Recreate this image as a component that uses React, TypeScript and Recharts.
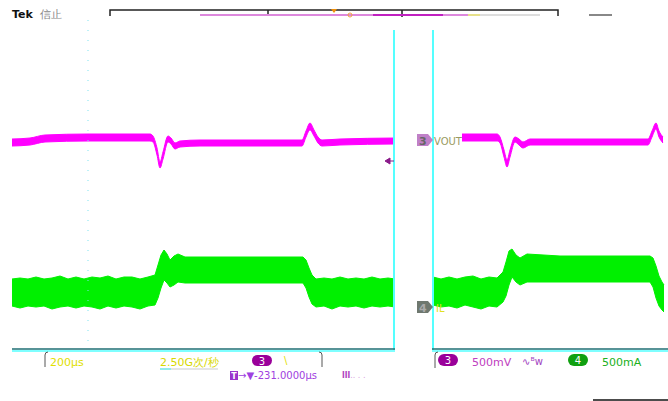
import { ComposedChart, Area, XAxis, YAxis, ReferenceLine } from 'recharts'

// screen units: x = horizontal position across the capture, y = vertical position (top down)
const voutLeftX = [12, 30, 45, 88, 120, 150, 153, 157, 160, 163, 168, 171, 175, 180, 200, 250, 302, 306, 310, 314, 318, 322, 340, 395]
const voutLeftTop = [139, 138, 135, 134, 134, 134, 136, 148, 162, 152, 136, 138, 143, 141, 140, 140, 140, 131, 123, 130, 137, 140, 139, 138]
const voutLeftBot = [146, 145, 142, 141, 141, 141, 142, 155, 168, 159, 142, 144, 149, 147, 146, 146, 146, 137, 130, 136, 143, 146, 145, 144]

const voutRightX = [433, 460, 497, 500, 504, 507, 510, 515, 519, 523, 530, 600, 648, 652, 656, 659, 663]
const voutRightTop = [134, 134, 134, 137, 150, 160, 150, 137, 139, 142, 139, 139, 139, 131, 123, 131, 137]
const voutRightBot = [141, 141, 141, 143, 157, 167, 157, 142, 145, 148, 145, 145, 145, 137, 129, 137, 143]

const ilLeftX = [12, 20, 28, 36, 44, 52, 60, 68, 76, 84, 92, 100, 108, 116, 124, 132, 140, 148, 155, 158, 161, 164, 167, 170, 174, 178, 185, 250, 303, 306, 309, 312, 316, 324, 332, 340, 348, 356, 364, 372, 380, 388, 395]
const ilLeftTop = [279, 278, 279, 277, 279, 278, 276, 279, 277, 279, 277, 278, 276, 279, 277, 277, 279, 277, 275, 265, 255, 250, 254, 260, 256, 254, 257, 257, 257, 260, 268, 275, 279, 278, 279, 277, 279, 278, 279, 277, 279, 278, 279]
const ilLeftBot = [306, 308, 306, 307, 306, 309, 307, 306, 308, 306, 307, 309, 306, 308, 306, 307, 309, 306, 305, 298, 288, 280, 283, 287, 285, 282, 283, 283, 283, 288, 297, 304, 307, 306, 309, 306, 307, 306, 308, 306, 307, 306, 307]

const ilRightX = [433, 441, 449, 457, 465, 473, 481, 489, 497, 503, 506, 509, 512, 516, 520, 527, 560, 650, 653, 656, 659, 662, 664]
const ilRightTop = [277, 279, 277, 279, 277, 276, 279, 277, 278, 272, 262, 251, 249, 255, 258, 254, 256, 256, 258, 266, 276, 282, 285]
const ilRightBot = [305, 307, 306, 308, 305, 307, 309, 306, 307, 302, 296, 285, 277, 282, 285, 282, 282, 282, 287, 298, 306, 310, 312]

const rows = (xs: number[], tops: number[], bots: number[]) =>
  xs.map((x, i) => ({ x, band: [tops[i], bots[i]] }))

const MAGENTA = '#ff00ff'
const GREEN = '#00f000'
const CYAN = '#55ffff'

export default function App() {
  return (
    <div style={{ position: 'absolute', left: 0, top: 0, width: 668, height: 401, background: '#fff' }}>
      <ComposedChart width={668} height={401} margin={{ top: 0, right: 0, bottom: 0, left: 0 }}>
        <XAxis type="number" dataKey="x" domain={[0, 668]} hide allowDataOverflow />
        <YAxis type="number" domain={[0, 401]} reversed hide allowDataOverflow />
        <ReferenceLine segment={[{ x: 88, y: 20 }, { x: 88, y: 345 }]} stroke="#7fe3f0" strokeDasharray="1 9" />
        <Area data={rows(ilLeftX, ilLeftTop, ilLeftBot)} dataKey="band" type="linear" fill={GREEN} fillOpacity={1} stroke={GREEN} strokeWidth={1} isAnimationActive={false} dot={false} activeDot={false} />
        <Area data={rows(ilRightX, ilRightTop, ilRightBot)} dataKey="band" type="linear" fill={GREEN} fillOpacity={1} stroke={GREEN} strokeWidth={1} isAnimationActive={false} dot={false} activeDot={false} />
        <Area data={rows(voutLeftX, voutLeftTop, voutLeftBot)} dataKey="band" type="monotone" fill={MAGENTA} fillOpacity={1} stroke={MAGENTA} strokeWidth={1} isAnimationActive={false} dot={false} activeDot={false} />
        <Area data={rows(voutRightX, voutRightTop, voutRightBot)} dataKey="band" type="monotone" fill={MAGENTA} fillOpacity={1} stroke={MAGENTA} strokeWidth={1} isAnimationActive={false} dot={false} activeDot={false} />
        <ReferenceLine segment={[{ x: 394, y: 30 }, { x: 394, y: 350 }]} stroke={CYAN} strokeWidth={2} />
        <ReferenceLine segment={[{ x: 433, y: 30 }, { x: 433, y: 350 }]} stroke={CYAN} strokeWidth={2} />
        <ReferenceLine segment={[{ x: 12, y: 349 }, { x: 395, y: 349 }]} stroke="#1f6f74" strokeWidth={1.5} />
        <ReferenceLine segment={[{ x: 12, y: 351 }, { x: 395, y: 351 }]} stroke={CYAN} strokeWidth={1.5} />
        <ReferenceLine segment={[{ x: 432, y: 349 }, { x: 668, y: 349 }]} stroke="#1f6f74" strokeWidth={1.5} />
        <ReferenceLine segment={[{ x: 432, y: 351 }, { x: 668, y: 351 }]} stroke={CYAN} strokeWidth={1.5} />
      </ComposedChart>

      <svg width={668} height={401} style={{ position: 'absolute', left: 0, top: 0, pointerEvents: 'none', fontFamily: 'DejaVu Sans, sans-serif' }}>
        {/* top status bar */}
        <text x={12} y={18} fontSize={11} fontWeight="bold" fill="#111">Tek</text>
        <text x={40} y={18} fontSize={11} fill="#888">信止</text>
        <path d="M110 16 V10 H558 V16 M268 10 V16 M402 10 V17" stroke="#222" strokeWidth={1.5} fill="none" />
        <line x1={200} y1={15} x2={373} y2={15} stroke="#dd88dd" strokeWidth={2} />
        <line x1={373} y1={15} x2={443} y2={15} stroke="#c020c0" strokeWidth={2} />
        <line x1={443} y1={15} x2={468} y2={15} stroke="#dd88dd" strokeWidth={2} />
        <line x1={468} y1={15} x2={480} y2={15} stroke="#e6e08a" strokeWidth={2} />
        <line x1={480} y1={15} x2={540} y2={15} stroke="#dddddd" strokeWidth={2} />
        <polygon points="331,9 337,9 334,13" fill="#f0900a" />
        <circle cx={350} cy={15} r={2} fill="none" stroke="#f0a040" />
        <line x1={589} y1={15} x2={612} y2={15} stroke="#888" strokeWidth={2} />

        {/* channel markers */}
        <polygon points="417,134 428,134 433,140 428,146 417,146" fill="#c080c8" />
        <text x={419} y={145} fontSize={11} fontWeight="bold" fill="#666">3</text>
        <rect x={434} y={133} width={28} height={14} fill="#fff" />
        <text x={434} y={145} fontSize={10} fill="#9a9a60">VOUT</text>
        <polygon points="417,301 428,301 433,307 428,313 417,313" fill="#6f786f" />
        <text x={419} y={312} fontSize={11} fontWeight="bold" fill="#aaa">4</text>
        <text x={436} y={312} fontSize={10} fill="#e0e020">IL</text>
        <path d="M385 161 L390 158 L390 164 Z M389 161 H394" stroke="#8a1a8a" fill="#8a1a8a" strokeWidth={1} />

        {/* bottom readouts */}
        <path d="M45 367 V355 Q45 352 48 352 M319 352 Q322 352 322 355 V367" stroke="#555" strokeWidth={1} fill="none" />
        <text x={50} y={366} fontSize={11} fill="#e0e000">200µs</text>
        <text x={160} y={366} fontSize={11} fill="#d8d800">2.50G次/秒</text>
        <line x1={160} y1={369} x2={218} y2={369} stroke="#ddd" strokeWidth={1.5} />
        <line x1={160} y1={369} x2={171} y2={369} stroke="#7ee" strokeWidth={1.5} />
        <rect x={252} y={355} width={20} height={11} rx={5.5} fill="#9a009a" />
        <text x={262} y={364.5} fontSize={10} fill="#fff" textAnchor="middle">3</text>
        <text x={284} y={364} fontSize={10} fill="#e0e000">\</text>
        <rect x={230} y={371} width={8} height={9} fill="#9a33cc" />
        <text x={234} y={379} fontSize={8} fill="#fff" textAnchor="middle" fontWeight="bold">T</text>
        <text x={238} y={379} fontSize={10} fill="#a040e0">→▼-231.0000µs</text>
        <text x={342} y={378} fontSize={8} fill="#b040c0" fontWeight="bold">lll<tspan fill="#d8a0e0" fontWeight="normal">.. . .</tspan></text>

        <path d="M435 368 V355 Q435 352 438 352" stroke="#555" strokeWidth={1} fill="none" />
        <rect x={438} y={354} width={20} height={12} rx={6} fill="#9a009a" />
        <text x={448} y={364} fontSize={10} fill="#fff" textAnchor="middle">3</text>
        <text x={472} y={366} fontSize={11} fill="#c040c0">500mV</text>
        <text x={522} y={365} fontSize={10} fill="#a040c0">∿ᴮw</text>
        <rect x={568} y={354} width={20} height={12} rx={6} fill="#10a010" />
        <text x={578} y={364} fontSize={10} fill="#fff" textAnchor="middle">4</text>
        <text x={602} y={366} fontSize={11} fill="#20b020">500mA</text>
        <line x1={593} y1={400} x2={668} y2={400} stroke="#111" strokeWidth={1.5} />
      </svg>
    </div>
  )
}
